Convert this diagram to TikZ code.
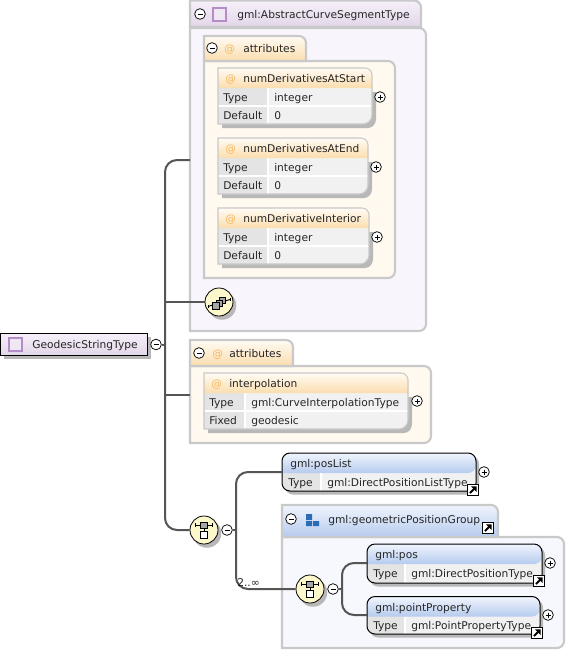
\documentclass[tikz,border=0pt]{standalone}
\usepackage{fontspec}
\setmainfont{DejaVu Sans}
\usetikzlibrary{calc}
\definecolor{tx}{HTML}{262626}
\definecolor{bd}{HTML}{C9C9C9}
\definecolor{shd}{HTML}{B8B8B8}
\definecolor{conn}{HTML}{555555}
\definecolor{purp}{HTML}{F9F5FC}
\definecolor{purptop}{HTML}{F6F0F9}
\definecolor{purpbot}{HTML}{E2D6E8}
\definecolor{icn}{HTML}{B48CC6}
\definecolor{icnf}{HTML}{EFE7F4}
\definecolor{cream}{HTML}{FFF9F0}
\definecolor{orgtop}{HTML}{FFFBF4}
\definecolor{orgbot}{HTML}{FBDDAE}
\definecolor{blutop}{HTML}{F1F5FD}
\definecolor{blubot}{HTML}{B5CBEE}
\definecolor{bluepan}{HTML}{F6F8FD}
\definecolor{rowa}{HTML}{E4E4E4}
\definecolor{rowb}{HTML}{F1F1F1}
\definecolor{ylw}{HTML}{FCF8CC}
\definecolor{orgat}{HTML}{F5B95F}
\definecolor{grpb}{HTML}{2A6BB5}
\definecolor{grayic}{HTML}{A6A6A6}
\tikzset{
  x=0.75pt,y=-0.75pt,
  txt/.style={text=tx,inner sep=0pt,anchor=base west,font=\fontsize{8}{10}\selectfont},
  pm/.style={circle,draw=black,fill=white,line width=0.55pt,minimum size=8pt,inner sep=0pt},
  wire/.style={draw=conn,line width=1.5pt,rounded corners=9pt},
  tabline/.style={draw=bd,line width=1.6pt},
}
\newcommand{\minus}[3]{\node[pm] (#1) at (#2,#3) {};\draw[line width=0.6pt,black] ($(#1)+(-2.5,0)$)--($(#1)+(2.5,0)$);}
\newcommand{\plusn}[3]{\node[pm] (#1) at (#2,#3) {};\draw[line width=0.6pt,black] ($(#1)+(-2.5,0)$)--($(#1)+(2.5,0)$) ($(#1)+(0,-2.5)$)--($(#1)+(0,2.5)$);}
\newcommand{\linkic}[3]{\node[draw=black,fill=white,line width=0.8pt,minimum size=7.8pt,inner sep=0pt] (#1) at (#2,#3) {};
 \draw[black,line width=1.5pt] ($(#1)+(-3,3)$)--($(#1)+(2,-2)$);
 \fill[black] ($(#1)+(-2,-3.7)$)--($(#1)+(3.7,-3.7)$)--($(#1)+(3.7,2)$)--cycle;}
\newcommand{\tabshape}[6]{\shade[top color=#5,bottom color=#6] (#1,#4)--(#1,#2)--(#3-7,#2) to[out=0,in=90] (#3,#2+7)--(#3,#4)--cycle;
 \draw[tabline] (#1,#4)--(#1,#2)--(#3-7,#2) to[out=0,in=90] (#3,#2+7)--(#3,#4)--(#1,#4);}
\newcommand{\panelshape}[5]{\fill[#5] (#1,#2)--(#3-7,#2) to[out=0,in=90] (#3,#2+7)--(#3,#4-7) to[out=-90,in=0] (#3-7,#4)--(#1,#4)--cycle;
 \draw[tabline] (#1,#2)--(#3-7,#2) to[out=0,in=90] (#3,#2+7)--(#3,#4-7) to[out=-90,in=0] (#3-7,#4)--(#1,#4)--cycle;}
\newcommand{\attrbox}[9]{%
 \fill[shd] (#2+4,#3+24)--(#4+4,#3+24)--(#4+4,#3+51) to[out=-90,in=0] (#4-4,#3+60)--(#2+4,#3+60)--cycle;
 \fill[rowb] (#2,#3+19)--(#4,#3+19)--(#4,#3+47) to[out=-90,in=0] (#4-9,#3+56)--(#2,#3+56)--cycle;
 \fill[rowa] (#2,#3+20) rectangle (#5,#3+37.5);
 \fill[rowa] (#2,#3+38.5) rectangle (#5,#3+56);
 \draw[white,line width=1pt] (#2,#3+38)--(#4,#3+38);
 \draw[white,line width=0.8pt] (#5,#3+20)--(#5,#3+56);
 \shade[top color=orgtop,bottom color=orgbot] (#2,#3+20)--(#2,#3)--(#4-7,#3) to[out=0,in=90] (#4,#3+7)--(#4,#3+20)--cycle;
 \draw[draw=bd,line width=0.8pt] (#2,#3+56)--(#2,#3)--(#4-7,#3) to[out=0,in=90] (#4,#3+7)--(#4,#3+47) to[out=-90,in=0] (#4-9,#3+56)--cycle;
 \node[txt,text=orgat] at (#2+7,#3+14) {@};
 \node[txt] (#1) at (#2+25,#3+14) {#6};
 \node[txt] at (#2+5,#3+33) {#7};
 \node[txt] at (#5+6,#3+33) {#8};
 \node[txt] at (#2+5,#3+51) {#9};
}
\newcommand{\elembox}[8]{%
 \fill[shd,rounded corners=6pt] (#2+3,#3+3) rectangle (#4+3,#5+3.5);
 \fill[rowb,rounded corners=6pt] (#2,#3) rectangle (#4,#5);
 \fill[rowa,rounded corners=6pt] (#2,#3+10) rectangle (#6,#5);
 \fill[rowa] (#2+6,#3+20) rectangle (#6,#5);
 \shade[top color=blutop,bottom color=blubot,rounded corners=6pt] (#2,#3+20)--(#2,#3)--(#4,#3)--(#4,#3+20)[sharp corners]--cycle;
 \draw[white,line width=0.8pt] (#6,#3+20)--(#6,#5);
 \draw[black,line width=0.75pt,rounded corners=6pt] (#2,#3) rectangle (#4,#5);
 \node[txt] (#1) at (#2+8,#3+14.5) {#7};
 \node[txt] at (#2+6,#3+33) {Type};
 \node[txt] at (#6+6,#3+33) {#8};
}
\newcommand{\compo}[3]{\fill[shd] (#2+3,#3+3.5) circle (10.7pt);
 \node[circle,draw=black,fill=ylw,line width=0.6pt,minimum size=21pt,inner sep=0pt] (#1) at (#2,#3) {};}
\newcommand{\seqic}[2]{%
 \draw[black,line width=0.7pt] (#1-8.5,#2-5)--(#1+8.5,#2-5);
 \draw[black,line width=0.7pt] (#1-8.5,#2-7)--(#1-8.5,#2-3) (#1+8.5,#2-7)--(#1+8.5,#2-3);
 \draw[black,line width=0.7pt] (#1,#2-5)--(#1,#2+2);
 \draw[black,fill=grayic,line width=0.5pt] (#1-3.2,#2-8) rectangle (#1+3.2,#2-1.5);
 \draw[black,fill=white,line width=0.6pt] (#1-3.4,#2+1.5) rectangle (#1+3.4,#2+8);}
\newcommand{\choiceic}[2]{%
 \draw[black,line width=0.7pt] (#1-11,#2+3.5)--(#1+11,#2-3.5);
 \draw[black,line width=0.7pt] (#1-11,#2+2)--(#1-11,#2+5) (#1+11,#2-5)--(#1+11,#2-2);
 \draw[black,fill=grayic,line width=0.5pt] (#1+0.5,#2-6) rectangle (#1+6.5,#2);
 \draw[black,fill=grayic,line width=0.5pt] (#1-3,#2-3) rectangle (#1+3.5,#2+3.5);
 \draw[black,fill=grayic,line width=0.5pt] (#1-6.5,#2-0.5) rectangle (#1,#2+6);}
\begin{document}
\begin{tikzpicture}
\useasboundingbox (0,0) rectangle (566,650);
\fill[white] (0,0) rectangle (566,650);
% top type panel
\panelshape{190}{28}{426}{331}{purp}
\tabshape{190}{0.5}{421}{27}{purptop}{purpbot}
\minus{mTop}{200}{14}
\draw[draw=icn,fill=icnf,line width=0.8pt] (213,8) rectangle (226,21);
\node[txt] (tTop) at (237,18) {gml:AbstractCurveSegmentType};
\coordinate (pTop) at (190,160);
% attributes group 1
\panelshape{204}{61}{395}{278}{cream}
\tabshape{204}{36}{306}{61}{orgtop}{orgbot}
\minus{mA}{212}{48}
\node[txt,text=orgat] at (224,52) {@};
\node[txt] (tA) at (243,52) {attributes};
\attrbox{a1}{218}{68}{372}{268}{numDerivativesAtStart}{Type}{integer}{Default}
\node[txt] at (274,119) {0};
\plusn{p1}{380}{97}
\attrbox{a2}{218}{138}{368}{268}{numDerivativesAtEnd}{Type}{integer}{Default}
\node[txt] at (274,189) {0};
\plusn{p2}{376}{167}
\attrbox{a3}{218}{208}{369}{268}{numDerivativeInterior}{Type}{integer}{Default}
\node[txt] at (274,259) {0};
\plusn{p3}{377}{237}
% repeating compositor
\compo{cTop}{219}{302}
\choiceic{219}{303}
% attributes group 2
\panelshape{190}{366}{431}{443}{cream}
\tabshape{190}{340}{293}{366}{orgtop}{orgbot}
\minus{mB}{199}{353}
\node[txt,text=orgat] at (212,357) {@};
\node[txt] (tB) at (229,357) {attributes};
\coordinate (pB) at (190,395);
\attrbox{a4}{204}{373}{408}{245}{interpolation}{Type}{gml:CurveInterpolationType}{Fixed}
\node[txt] at (251,424) {geodesic};
\plusn{p4}{417}{401}
% root
\fill[shd] (4,337) rectangle (151,359);
\shade[top color=purptop,bottom color=purpbot,draw=black,line width=0.8pt] (0.5,333.5) rectangle (147.5,355.5);
\draw[draw=icn,fill=icnf,line width=0.8pt] (9,338) rectangle (22,351);
\node[txt] (root) at (32,348.5) {GeodesicStringType};
\minus{mRoot}{156}{344.5}
% main sequence
\compo{cMain}{204}{530}
\seqic{204}{530}
\minus{mMain}{227}{530}
\coordinate (trunk) at (165,344.5);
% trunk
\draw[wire] (pTop)-|(165,530)--(cMain.west);
\draw[wire,sharp corners] (mRoot.east)--(trunk);
\draw[wire,sharp corners] (trunk|-cTop.west)--(cTop.west);
\draw[wire,sharp corners] (trunk|-pB)--(pB);
% posList
\elembox{eList}{282}{453}{476}{491}{321}{gml:posList}{gml:DirectPositionListType}
\linkic{lList}{473}{490}
\plusn{pList}{484}{472}
% group
\panelshape{282}{537}{564}{648}{bluepan}
\tabshape{282}{505}{498}{537}{blutop}{blubot}
\minus{mG}{291}{519}
\fill[grpb] (306,514) rectangle (312,520) (306,521) rectangle (312,526) (313,521) rectangle (319,526);
\node[txt] (tG) at (328,523) {gml:geometricPositionGroup};
\linkic{lG}{488}{528}
% inner sequence
\compo{cIn}{310}{589}
\seqic{310}{589}
\minus{mIn}{333}{589}
\elembox{ePos}{367}{544}{542}{583}{405}{gml:pos}{gml:DirectPositionType}
\linkic{lPos}{539}{581}
\plusn{pPos}{550}{563}
\elembox{ePt}{367}{596.5}{540}{634}{405}{gml:pointProperty}{gml:PointPropertyType}
\linkic{lPt}{537}{633}
\plusn{pPt}{548}{615}
% connectors
\coordinate (inList) at (282,472);
\coordinate (inPos) at (367,563);
\coordinate (inPt) at (367,615);
\coordinate (fork) at (342,589);
\coordinate (mainFork) at (236,530);
\draw[wire,sharp corners] (mMain.east)--(mainFork);
\draw[wire] (inList)--(mainFork|-inList)--(mainFork|-cIn.west)--(cIn.west);
\draw[wire] (inPos)--(fork|-inPos)--(fork|-inPt)--(inPt);
\draw[wire,sharp corners] (mIn.east)--(fork);
\node[txt] (occurs) at (237,586) {2..∞};
\end{tikzpicture}
\end{document}
